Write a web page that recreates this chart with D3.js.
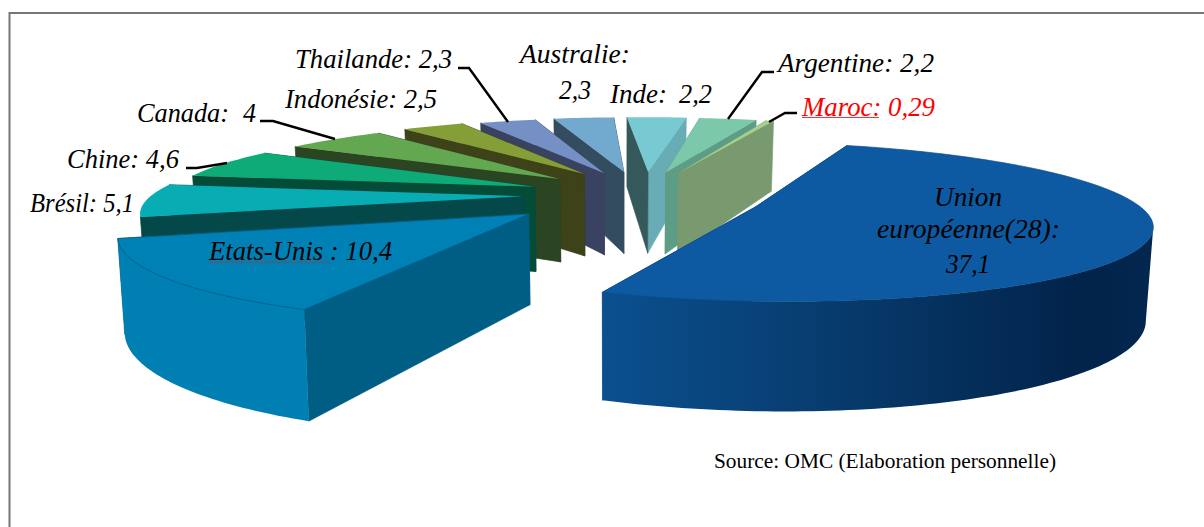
<!DOCTYPE html>
<html><head><meta charset="utf-8">
<script src="https://cdnjs.cloudflare.com/ajax/libs/d3/7.8.5/d3.min.js"></script>
<style>html,body{margin:0;padding:0;background:#fff}svg{display:block}</style></head>
<body><svg id="c" width="1204" height="527"></svg>
<script>
// Data
const countries=["Union européenne(28)","Etats-Unis","Brésil","Chine","Canada","Indonésie","Thailande","Australie","Inde","Argentine","Maroc"];
const values=[37.1,10.4,5.1,4.6,4,2.5,2.3,2.3,2.2,2.2,0.29];
// Slice styling
const explodeX=[0.295,0.38,0.31,0.305,0.30,0.30,0.306,0.34,0.34,0.27,0.29];
const explodeY=[0.43,0.38,0.31,0.33,0.345,0.36,0.34,0.34,0.34,0.34,0.34];
const radiusX=[0.955,0.97,0.95,0.94,0.93,0.915,0.905,0.97,1,0.96,0.95];
const radiusY=[1,1.07,1,1,1,1,1,1,1,1,1];
const startShift=[0,1.5,0,0,0,0,0,1.3,0,0,0];
const endShift=[0,0,0,0,0,0,0,1.3,0,0,0];
const topColors=["#0d5aa2","#0081b5","#08adb4","#0eab78","#63a750","#869e38","#7490c4","#72a9cf","#79c9d3","#7bc9aa","#a6cf8e"];
const startWall=["#0b4f8e","#005e85","#04484a","#054c38","#2b4523","#3d4219","#394260","#334c5f","#35595b","#5e9d85","#5e9d85"];
const endWall=["#0b4f8e","#005e85","#04484a","#054c38","#2b4523","#3d4219","#394260","#334c5f","#68adb5","#5e9d85","#789a6e"];
const arcWall=["url(#euWall)","#007fb2","#04484a","#054c38","#2b4523","#3d4219","#394260","#334c5f","#68adb5","#5e9d85","#789a6e"];
// Labels
const labelTexts=["Thailande: 2,3","Australie:","2,3","Inde:","2,2","Argentine: 2,2","Maroc: 0,29","Indonésie: 2,5","Canada:","4","Chine: 4,6","Brésil: 5,1","Etats-Unis : 10,4","Union","européenne(28):","37,1"];
const labelX=[295,520,559,610,679,778,802,285,137,243,67,30,209,934,877,946];
const labelY=[68,63,99,103,103,72,116,108,122,122,168,212,260,206,238,273];
const labelW=[157,110,32,57,33,156,133,152,92,13,112,104,183,68,183,44];
const labelFill=labelTexts.map(t=>t.startsWith("Maroc")?"#f00":"#000");
const leaderX=[[458,469,508],[260,273,335],[186,197,227],[774,762,728],[797,785,769]];
const leaderY=[[68,68,122],[121,121,139],[168,168,163],[72,72,119],[113,113,122]];

// Projection parameters of the 3-D pie
const vx=621, yh=-198, cy=195, D=5.43, Rx=391, h0=86.5, tilt=0.014, X0=0.06;
const project=(X,Y,low)=>{
  const s=1/(1-Y/D);
  let x=vx+X*Rx*s, y=yh+(cy-yh)*s;
  if(low){y+=h0*s; x+=(vx-x)*tilt;}
  return [x,y];
};
const svg=d3.select("#c");
const grad=svg.append("defs").append("linearGradient").attr("id","euWall").attr("gradientUnits","userSpaceOnUse")
  .attr("x1",600).attr("x2",1150).attr("y1",0).attr("y2",0);
[[0,"#0b508f"],[0.45,"#073a6b"],[0.88,"#02234a"],[1,"#03274f"]].forEach(d=>grad.append("stop").attr("offset",d[0]).attr("stop-color",d[1]));

const start=20*Math.PI/180, deg=Math.PI/180;
const arcs=d3.pie().sort(null).startAngle(start).endAngle(start+2*Math.PI)(values);
const line=d3.line().curve(d3.curveLinear);

svg.append("path").attr("d",d3.line()([[1204,13],[9.5,13],[9.5,527]])).attr("fill","none").attr("stroke","#777").attr("stroke-width",2);

// paint back to front
const order=[7,6,5,4,3,2,1,8,9,10,0];
order.forEach(i=>{
  const a=arcs[i], b=(a.startAngle+a.endAngle)/2;
  const a0=a.startAngle+startShift[i]*deg, a1=a.endAngle+endShift[i]*deg;
  const Xa=X0+explodeX[i]*Math.sin(b), Ya=-explodeY[i]*Math.cos(b);
  const pt=(th,low)=>project(Xa+radiusX[i]*Math.sin(th),Ya-radiusY[i]*Math.cos(th),low);
  const ap=low=>project(Xa,Ya,low);
  const n=Math.max(4,Math.ceil((a1-a0)/0.02));
  const ths=d3.range(n+1).map(k=>a0+(a1-a0)*k/n);
  const g=svg.append("g");
  const wall=(th,col)=>g.append("path").attr("d",line([ap(false),pt(th,false),pt(th,true),ap(true)])+"Z").attr("fill",col).attr("stroke",col).attr("stroke-width",0.6);
  const rightHalf=Math.sin(b)>0.05;
  if(rightHalf){wall(a0,startWall[i]);wall(a1,endWall[i]);}
  else {wall(a1,endWall[i]);wall(a0,startWall[i]);}
  // the rim faces the camera where x falls as the angle grows
  const vis=ths.filter((t,k)=>k<n?pt(ths[k+1],false)[0]<pt(t,false)[0]:pt(t,false)[0]<pt(ths[k-1],false)[0]);
  if(vis.length>1){
    g.append("path").attr("d",line(vis.map(t=>pt(t,false)).concat(vis.slice().reverse().map(t=>pt(t,true))))+"Z")
     .attr("fill",arcWall[i]).attr("stroke","none");
  }
  g.append("path").attr("d",line([ap(false)].concat(ths.map(t=>pt(t,false))))+"Z").attr("fill",topColors[i]).attr("stroke",startWall[i]).attr("stroke-width",i<2?0.7:0);
});

// leaders
leaderX.forEach((xs,i)=>svg.append("path").attr("d",line(xs.map((x,k)=>[x,leaderY[i][k]]))).attr("fill","none").attr("stroke","#000").attr("stroke-width",2.4));
// labels
labelTexts.forEach((t,i)=>svg.append("text").attr("x",labelX[i]).attr("y",labelY[i]).text(t)
  .attr("font-family","'Liberation Serif',serif").attr("font-style","italic").attr("font-size",27)
  .attr("fill",labelFill[i]).attr("textLength",labelW[i]).attr("lengthAdjust","spacingAndGlyphs"));
// spell-check and link underlines
svg.append("path").attr("d","M209 262H329").attr("stroke","#7a4a5a").attr("stroke-width",1);
svg.append("path").attr("d","M802 117.5H879").attr("stroke","#f33").attr("stroke-width",1);
svg.append("text").attr("x",714).attr("y",468).text("Source: OMC (Elaboration personnelle)")
  .attr("font-family","'Liberation Serif',serif").attr("font-size",21).attr("fill","#000").attr("textLength",342).attr("lengthAdjust","spacingAndGlyphs");
</script></body></html>
